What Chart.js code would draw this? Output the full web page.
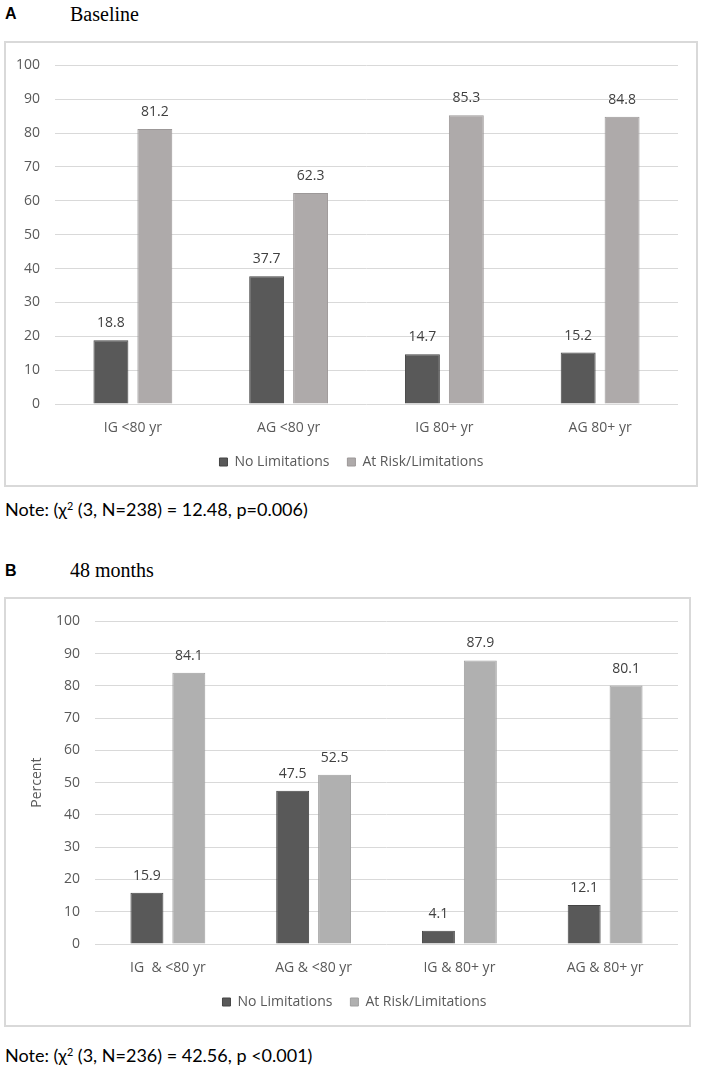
<!DOCTYPE html>
<html>
<head>
<meta charset="utf-8">
<script src="https://cdn.jsdelivr.net/npm/chart.js@4.4.1/dist/chart.umd.min.js"></script>
<style>
  html, body { margin:0; padding:0; background:#fff; }
  body { width:702px; height:1069px; position:relative; overflow:hidden; }
  .abs { position:absolute; white-space:nowrap; }
  .box { position:absolute; box-sizing:border-box; border:2px solid #d9d9d9; }
  .letter { font-family:'Liberation Sans', Arial, sans-serif; font-weight:bold; font-size:16px; line-height:16px; color:#000; }
  .ttl { font-family:'Liberation Serif', 'Times New Roman', serif; font-size:20px; line-height:20px; color:#000; }
  .note { font-family:Lato, sans-serif; font-size:18px; line-height:18px; color:#000; }
  .note sup { font-size:0.6em; vertical-align:0.55em; line-height:0; }
  .fontprobe { font-family:'Open Sans'; position:absolute; left:-999px; top:-999px; }
</style>
</head>
<body>
<span class="fontprobe">0123 Limitations</span>
<div class="abs letter" style="left:5px;top:6px;">A</div>
<div class="abs ttl" style="left:70px;top:4px;">Baseline</div>
<div class="box" style="left:4px;top:41px;width:694px;height:446px;"></div>
<div class="abs" style="left:5px;top:42px;width:692px;height:444px;"><canvas id="chartA" width="692" height="444"></canvas></div>
<div class="abs note" style="left:5px;top:500px;">Note: (χ<sup>2</sup> (3, N=238) = 12.48, p=0.006)</div>

<div class="abs letter" style="left:5px;top:563px;">B</div>
<div class="abs ttl" style="left:70px;top:560px;">48 months</div>
<div class="box" style="left:4px;top:597px;width:687px;height:430px;"></div>
<div class="abs" style="left:5px;top:598px;width:685px;height:428px;"><canvas id="chartB" width="685" height="428"></canvas></div>
<div class="abs note" style="left:5px;top:1046px;">Note: (χ<sup>2</sup> (3, N=236) = 42.56, p &lt;0.001)</div>

<script>
// ---- data ----
const seriesNames = ['No Limitations', 'At Risk/Limitations'];
const categoriesA = ['IG <80 yr', 'AG <80 yr', 'IG 80+ yr', 'AG 80+ yr'];
const noLimitationsA = [18.8, 37.7, 14.7, 15.2];
const atRiskA = [81.2, 62.3, 85.3, 84.8];
const categoriesB = ['IG  & <80 yr', 'AG & <80 yr', 'IG & 80+ yr', 'AG & 80+ yr'];
const noLimitationsB = [15.9, 47.5, 4.1, 12.1];
const atRiskB = [84.1, 52.5, 87.9, 80.1];
const yMin = 0, yMax = 100, yStep = 10;
const yTitleB = 'Percent';

// ---- styling ----
Chart.defaults.font.family = "'Open Sans', sans-serif";
Chart.defaults.font.size = 14;
Chart.defaults.color = '#595959';

const valueLabels = {
  id: 'valueLabels',
  afterDatasetsDraw(chart) {
    const ctx = chart.ctx;
    ctx.save();
    ctx.font = "14px 'Open Sans', sans-serif";
    ctx.fillStyle = '#404040';
    ctx.textAlign = 'center';
    ctx.textBaseline = 'middle';
    chart.data.datasets.forEach((ds, di) => {
      const meta = chart.getDatasetMeta(di);
      meta.data.forEach((bar, i) => {
        ctx.fillText(ds.data[i].toFixed(1), bar.x, bar.y - 17);
      });
    });
    ctx.restore();
  }
};

function makeChart(id, cats, s1, s2, lightColor, lightBorder, cfg) {
  return new Chart(document.getElementById(id), {
    type: 'bar',
    data: {
      labels: cats,
      datasets: [
        { label: seriesNames[0], data: s1, backgroundColor: '#595959', borderColor: '#454545', borderWidth: 1,
          categoryPercentage: cfg.cp, barPercentage: cfg.bp },
        { label: seriesNames[1], data: s2, backgroundColor: lightColor, borderColor: lightBorder, borderWidth: 1,
          categoryPercentage: cfg.cp, barPercentage: cfg.bp }
      ]
    },
    options: {
      responsive: false,
      animation: false,
      devicePixelRatio: 1,
      layout: { padding: { top: cfg.top, right: cfg.right, left: cfg.left, bottom: 7 } },
      plugins: {
        tooltip: { enabled: false },
        legend: {
          position: 'bottom',
          labels: { boxWidth: 8, boxHeight: 8, padding: 18, color: '#595959', font: { size: 14 } }
        }
      },
      scales: {
        x: {
          grid: { display: false, drawTicks: false },
          border: { display: false },
          ticks: { padding: 16, color: '#595959', autoSkip: false, maxRotation: 0 },
          afterFit(s) { s.height = 33; }
        },
        y: {
          min: yMin, max: yMax,
          ticks: { stepSize: yStep, padding: 15, color: '#595959' },
          grid: { color: '#d9d9d9', lineWidth: 1, drawTicks: false },
          border: { display: false },
          title: cfg.title ? { display: true, text: cfg.title, color: '#595959', font: { size: 14 }, padding: { top: 6, bottom: 0 } } : { display: false },
          afterFit(s) { s.width = cfg.yw - cfg.left; }
        },
        spacer: {
          type: 'linear',
          position: 'right',
          grid: { display: false, drawTicks: false },
          border: { display: false },
          ticks: { display: false },
          afterFit(s) { s.width = cfg.spacer; }
        }
      }
    },
    plugins: [valueLabels]
  });
}

function build() {
  makeChart('chartA', categoriesA, noLimitationsA, atRiskA, '#aeaaaa', '#9c9898',
    { cp: 0.564, bp: 0.795, top: 19, left: 4, right: 3, spacer: 16, yw: 50 });
  makeChart('chartB', categoriesB, noLimitationsB, atRiskB, '#b0b0b0', '#9f9f9f',
    { cp: 0.575, bp: 0.786, top: 20, left: 18, right: 4, spacer: 8, yw: 90, title: yTitleB });
}
Promise.all([
  document.fonts.load("14px 'Open Sans'"),
  document.fonts.load("18px Lato")
]).then(build, build);
</script>
</body>
</html>
